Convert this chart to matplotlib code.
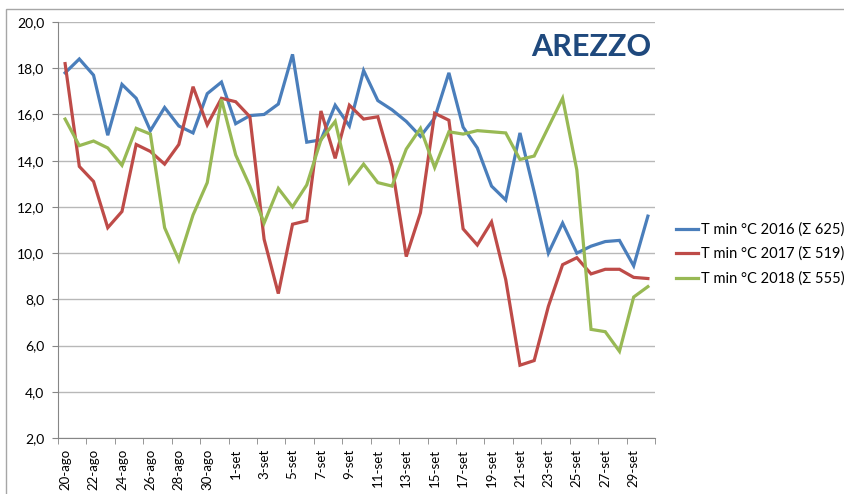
import matplotlib.pyplot as plt
from matplotlib.patches import Rectangle

plt.rcParams['font.family'] = ['Lato', 'DejaVu Sans']

# giorni dal 20 agosto al 30 settembre
giorni = [f"{d}-ago" for d in range(20, 32)] + [f"{d}-set" for d in range(1, 31)]

t2016 = [17.8, 18.4, 17.7, 15.1, 17.3, 16.7, 15.3, 16.3, 15.5, 15.2,
         16.9, 17.4, 15.6, 15.95, 16.0, 16.45, 18.6, 14.8, 14.9, 16.4,
         15.5, 17.9, 16.6, 16.2, 15.7, 15.05, 15.85, 17.8, 15.45, 14.55,
         12.9, 12.3, 15.2, 12.65, 10.0, 11.3, 10.0, 10.3, 10.5, 10.55,
         9.45, 11.6]
t2017 = [18.2, 13.75, 13.1, 11.1, 11.8, 14.7, 14.4, 13.85, 14.7, 17.2,
         15.55, 16.7, 16.55, 15.9, 10.6, 8.25, 11.25, 11.4, 16.15, 14.1,
         16.4, 15.8, 15.9, 13.75, 9.85, 11.75, 16.05, 15.75, 11.05, 10.35,
         11.35, 8.85, 5.15, 5.35, 7.7, 9.5, 9.8, 9.1, 9.3, 9.3,
         8.95, 8.9]
t2018 = [15.8, 14.65, 14.85, 14.55, 13.8, 15.4, 15.15, 11.1, 9.7, 11.65,
         13.05, 16.65, 14.25, 12.9, 11.3, 12.8, 12.0, 12.95, 14.9, 15.7,
         13.05, 13.85, 13.05, 12.9, 14.5, 15.4, 13.7, 15.25, 15.15, 15.3,
         15.25, 15.2, 14.05, 14.2, 15.45, 16.7, 13.6, 6.7, 6.6, 5.75,
         8.1, 8.55]

serie = [
    (t2016, "T min °C 2016 (Σ 625)", "#4A7EBB"),
    (t2017, "T min °C 2017 (Σ 519)", "#BE4B48"),
    (t2018, "T min °C 2018 (Σ 555)", "#98B954"),
]

W, H = 845, 494
fig = plt.figure(figsize=(W / 100, H / 100), dpi=100)
ax = fig.add_axes([58 / W, (H - 438) / H, (655 - 58) / W, (438 - 22) / H])

x = list(range(len(giorni)))
for vals, lab, col in serie:
    ax.plot(x, vals, color=col, linewidth=2.3, label=lab, solid_joinstyle='miter')

ax.set_xlim(-0.5, len(giorni) - 0.5)
ax.set_ylim(2, 20)
ax.set_yticks(range(2, 21, 2))
ax.set_yticklabels([f"{v},0" for v in range(2, 21, 2)])
ax.set_xticks(x[::2])
ax.set_xticklabels(giorni[::2], rotation=90, va='top', ha='center')
ax.set_xticks([i - 0.5 for i in range(0, len(giorni) + 1, 2)], minor=True)

ax.grid(axis='y', color='#b8b8b8', linewidth=1)
ax.set_axisbelow(True)
for s in ['top', 'right']:
    ax.spines[s].set_visible(False)
for s in ['left', 'bottom']:
    ax.spines[s].set_color('#868686')
ax.tick_params(axis='y', length=4, color='#868686', labelsize=10, pad=6)
ax.tick_params(axis='x', which='major', length=0, labelsize=9.5, pad=8)
ax.tick_params(axis='x', which='minor', length=4, color='#868686')

fig.text(651 / W, 1 - 47 / H, "AREZZO", ha='right', va='center',
         fontsize=22, fontweight='bold', color='#1F497D')

fig.legend(loc='center left', bbox_to_anchor=(670 / W, 1 - 254 / H),
           frameon=False, fontsize=10.5, handlelength=1.55, handletextpad=0.15,
           labelspacing=0.7, borderaxespad=0)

fig.patches.append(Rectangle((6 / W, -0.1), 2, 1.1 - 9 / H, transform=fig.transFigure,
                             fill=False, edgecolor='#a6a6a6', linewidth=1))

fig.savefig("out.png", dpi=100)
